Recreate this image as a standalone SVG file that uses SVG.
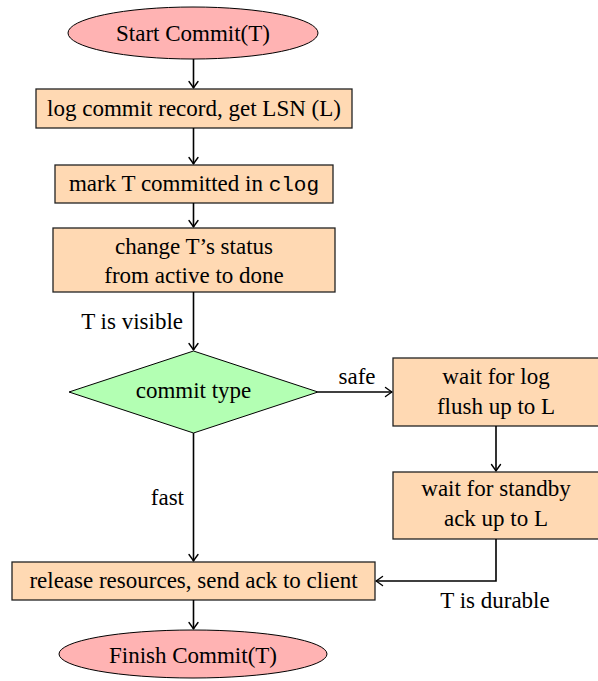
<svg xmlns="http://www.w3.org/2000/svg" width="598" height="681" viewBox="0 0 598 681">
<defs>
<marker id="arr" viewBox="-8 -6 10 12" refX="0" refY="0" markerWidth="10" markerHeight="12" markerUnits="userSpaceOnUse" orient="auto">
<path d="M-6.5,-4.5 Q-2,-1.2 0,0 Q-2,1.2 -6.5,4.5" fill="none" stroke="#000" stroke-width="1.4" stroke-linecap="round" stroke-linejoin="round"/>
</marker>
</defs>
<style>
text{font-family:"Liberation Serif","Times New Roman",serif;font-size:23px;fill:#000}
.mono{font-family:"Liberation Mono","DejaVu Sans Mono",monospace}
.c{text-anchor:middle}
.r{text-anchor:end}
.term{fill:#ffb3b3;stroke:#000;stroke-width:1}
.proc{fill:#ffd9b3;stroke:#222;stroke-width:1.3}
.dec{fill:#b3ffb3;stroke:#000;stroke-width:1}
.edge{fill:none;stroke:#000;stroke-width:1.6;marker-end:url(#arr)}
</style>
<rect width="598" height="681" fill="#fff"/>
<g id="start">
<ellipse class="term" cx="193" cy="33" rx="125" ry="26"/>
<text class="c" x="193" y="41">Start Commit(T)</text>
</g>
<g id="logcommit">
<rect class="proc" x="36" y="89" width="316" height="39"/>
<text class="c" x="194" y="116">log commit record, get LSN (L)</text>
</g>
<g id="markclog">
<rect class="proc" x="55" y="165" width="278" height="38"/>
<text class="c" x="194" y="191">mark T committed in <tspan class="mono" font-size="21">clog</tspan></text>
</g>
<g id="status">
<rect class="proc" x="53" y="228" width="282" height="64"/>
<text class="c" x="194" y="254">change T’s status</text>
<text class="c" x="194" y="283">from active to done</text>
</g>
<g id="committype">
<polygon class="dec" points="193.5,351 318,392 193.5,433 69,392"/>
<text class="c" x="193.5" y="398">commit type</text>
</g>
<g id="waitlog">
<rect class="proc" x="393" y="358" width="206" height="68"/>
<text class="c" x="496" y="384">wait for log</text>
<text class="c" x="496" y="414">flush up to L</text>
</g>
<g id="waitstandby">
<rect class="proc" x="393" y="472" width="206" height="67"/>
<text class="c" x="496" y="496">wait for standby</text>
<text class="c" x="496" y="526">ack up to L</text>
</g>
<g id="release">
<rect class="proc" x="12" y="562" width="363" height="38"/>
<text class="c" x="193.5" y="588">release resources, send ack to client</text>
</g>
<g id="finish">
<ellipse class="term" cx="193" cy="654" rx="134" ry="24"/>
<text class="c" x="193" y="663">Finish Commit(T)</text>
</g>
<g id="connectors">
<path class="edge" d="M193.5,59 V88"/>
<path class="edge" d="M193.5,128 V164"/>
<path class="edge" d="M193.5,203 V227"/>
<path class="edge" d="M193.5,292 V350"/>
<path class="edge" d="M318,392 H392"/>
<path class="edge" d="M496,426 V471"/>
<path class="edge" d="M496,539 V581 H376"/>
<path class="edge" d="M193.5,433 V561"/>
<path class="edge" d="M193.5,600 V629"/>
<text class="r" x="183" y="329">T is visible</text>
<text class="c" x="357" y="384">safe</text>
<text class="r" x="184" y="505">fast</text>
<text class="c" x="495" y="608">T is durable</text>
</g>
</svg>
